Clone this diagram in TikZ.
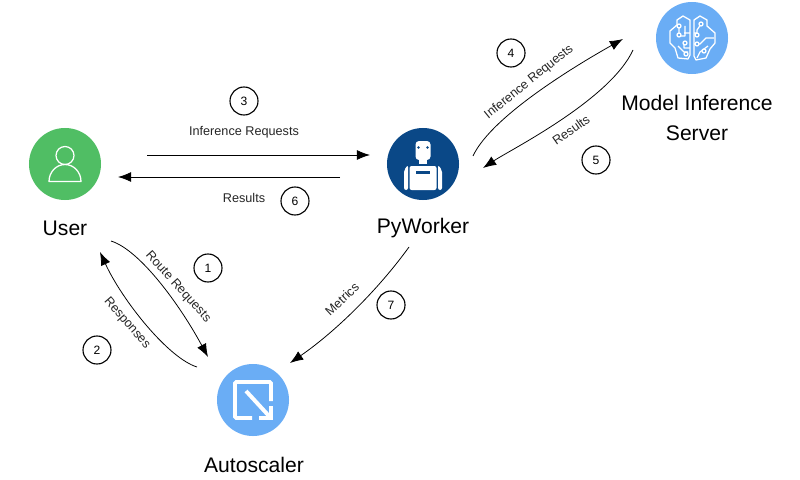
\documentclass[tikz,border=0pt]{standalone}
\usepackage{fontspec}
\setmainfont{Liberation Sans}
\usetikzlibrary{arrows.meta,positioning,calc}
\definecolor{usergreen}{RGB}{80,190,100}
\definecolor{workerblue}{RGB}{10,72,135}
\definecolor{lightblue}{RGB}{106,173,245}
\tikzset{icon/.style={circle, minimum size=1.8cm, inner sep=0pt}, title/.style={font=\fontsize{15}{21}\selectfont, align=center}, flow/.style={font=\fontsize{9}{10}\selectfont, inner sep=3pt, text=black!85}, stepnum/.style={circle, draw=black, line width=0.8pt, minimum size=0.7cm, inner sep=0pt, font=\fontsize{8.6}{10}\selectfont}, arrow/.style={-{Latex[length=0.33cm,width=0.25cm]}, line width=0.55pt, draw=black}, glyph/.style={draw=white, line width=0.9pt, line join=round}, thickglyph/.style={draw=white, line width=2.8pt}}

\begin{document}
\begin{tikzpicture}[x=0.025cm,y=-0.025cm]
\useasboundingbox (0,0) rectangle (800,479);
\node[icon, fill=usergreen] (user) at (65,164) {};
\node[icon, fill=workerblue] (pyworker) at (423,164) {};
\node[icon, fill=lightblue] (inference) at (692,38) {};
\node[icon, fill=lightblue] (autoscaler) at (253,400) {};
\node[title] (userlabel) at (65,228) {User};
\node[title] (pyworkerlabel) at (423,228) {PyWorker};
\node[title] (inferencelabel) at (697,118) {Model Inference\\Server};
\node[title] (autoscalerlabel) at (254,465) {Autoscaler};
% user glyph
\begin{scope}[shift={(user)}]
\draw[glyph] (0,-8.5) circle (9);
\draw[glyph] (-16,17.5) arc (180:360:16 and 17) -- cycle;
\end{scope}
% robot glyph
\begin{scope}[shift={(pyworker)}]
\fill[white, rounded corners=2.5pt] (-7.5,-23) rectangle (7.5,-4);
\fill[white] (-4,-4) rectangle (4,0);
\fill[white, rounded corners=1.5pt] (-13.5,2) rectangle (13.5,26);
\fill[white, rounded corners=1.5pt] (-19,6) -- (-15,1) -- (-15,26) -- (-19,26) -- cycle;
\fill[white, rounded corners=1.5pt] (19,6) -- (15,1) -- (15,26) -- (19,26) -- cycle;
\fill[workerblue] (-4.5,-16.5) circle (1.4) (4.5,-16.5) circle (1.4);
\fill[workerblue] (-6.7,7.3) rectangle (6.7,10.2);
\end{scope}
% brain glyph
\begin{scope}[shift={(inference)}]
\draw[glyph] (-2,-18) -- (-9,-22) -- (-15,-18) -- (-15,-13) -- (-22,-7) -- (-22,5) -- (-17,10) -- (-14,20) -- (-4,21) -- (-2,17) -- cycle;
\draw[glyph] (2,-18) -- (8,-22) -- (15,-18) -- (15,-12) -- (23,-5) -- (23,5) -- (18,11) -- (14,20) -- (4,22) -- (2,18) -- cycle;
\draw[glyph] (-13,-12) -- (-13,-4) (-7,-12) -- (-7,-2) -- (-13,-2) (-2,-5) -- (-8,-5) (-8,5) -- (-8,10) -- (-2,10) (-14,8) -- (-8,14) -- (-4,14);
\draw[glyph] (9,-14) -- (5,-8) -- (5,-3) (2,-5) -- (5,-5) (2,6) -- (8,6) -- (14,0) -- (22,0) (8,14) -- (16,8) (5,20) -- (8,14);
\draw[glyph, fill=lightblue] (-13,-12) circle (2) (-13,-3) circle (2) (-7,5) circle (2) (-6,16) circle (2) (9,-14) circle (2) (5,-3) circle (2) (5,6) circle (2) (12,13) circle (2);
\end{scope}
% scale glyph
\begin{scope}[shift={(autoscaler)}]
\draw[thickglyph, rounded corners=1pt] (18,1) -- (18,-18) -- (-18,-18) -- (-18,18) -- (-1,18);
\draw[thickglyph] (-7,-9) -- (16,16);
\draw[thickglyph] (18,6) -- (18,18) -- (6,18);
\end{scope}
% free ends of the connectors
\coordinate (reqstart) at (147,155);
\coordinate (reqend) at (370,155);
\coordinate (resstart) at (340,177);
\coordinate (resend) at (118,177);
\coordinate (routestart) at (111,241);
\coordinate (routeend) at (208,357);
\coordinate (respstart) at (197,367);
\coordinate (respend) at (100,252);
\coordinate (infstart) at (473,156);
\coordinate (infend) at (623,39);
\coordinate (backstart) at (633,50);
\coordinate (backend) at (483,168);
\coordinate (metstart) at (409,247);
\coordinate (metend) at (290,363);
\draw[arrow] (reqstart) -- (reqend);
\draw[arrow] (resstart) -- (resend);
\draw[arrow] (routestart) .. controls (140,250) and (180,305) .. (routeend);
\draw[arrow] (respstart) .. controls (168,358) and (122,300) .. (respend);
\draw[arrow] (infstart) .. controls (492,115) and (582,62) .. (infend);
\draw[arrow] (backstart) .. controls (610,100) and (510,150) .. (backend);
\draw[arrow] (metstart) .. controls (378,290) and (335,332) .. (metend);
\node[flow] (reqlabel) at (244,132) {Inference Requests};
\node[flow] (reslabel) at (244,198) {Results};
\node[flow, rotate=-48] (routelabel) at (178,287) {Route Requests};
\node[flow, rotate=-49] (resplabel) at (127,323) {Responses};
\node[flow, rotate=39] (inflabel) at (529,82) {Inference Requests};
\node[flow, rotate=35] (backlabel) at (571,130) {Results};
\node[flow, rotate=43] (metlabel) at (342,299) {Metrics};
\node[stepnum] (stepone) at (208,268) {1};
\node[stepnum] (steptwo) at (97,350) {2};
\node[stepnum] (stepthree) at (244,101) {3};
\node[stepnum] (stepfour) at (511,53) {4};
\node[stepnum] (stepfive) at (596,160) {5};
\node[stepnum] (stepsix) at (295,201) {6};
\node[stepnum] (stepseven) at (391,305) {7};
\end{tikzpicture}
\end{document}
